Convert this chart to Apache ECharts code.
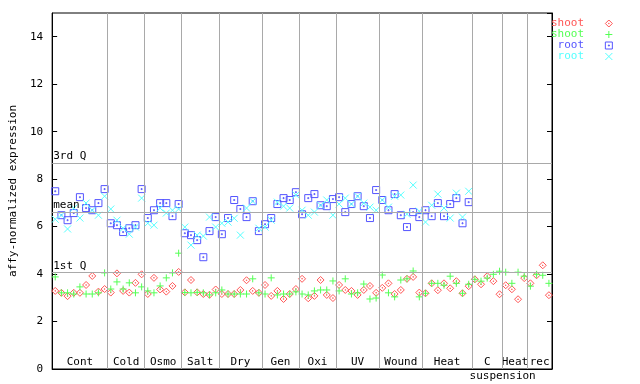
<!DOCTYPE html>
<html><head><meta charset="utf-8">
<script src="https://cdn.jsdelivr.net/npm/echarts@6/dist/echarts.min.js"></script>
<style>html,body{margin:0;padding:0;background:#fff}#c{width:640px;height:384px}</style>
</head><body><div id="c"></div>
<script>
const groups = ['Cont','Cold','Osmo','Salt','Dry','Gen','Oxi','UV','Wound','Heat','C','Heat','rec'];
const groupSizes = [9,6,6,6,7,6,6,7,7,8,5,4,4];
const subLabel = 'suspension';
const shoot1 = [3.29,3.21,3.07,3.21,3.21,3.54,3.92,3.26,3.37,
  3.22,4.03,3.29,3.22,3.63,3.99,
  3.16,3.84,3.35,3.26,3.50,4.09,
  3.23,3.75,3.23,3.16,3.13,3.35,
  3.16,3.16,3.16,3.33,3.74,3.29,3.21,
  3.54,3.08,3.29,2.95,3.16,3.37,
  3.80,2.98,3.08,3.75,3.12,2.99,
  3.54,3.33,3.29,3.12,3.33,3.50,3.21,
  3.42,3.61,3.16,3.33,3.80,3.88,3.22,
  3.19,3.61,3.32,3.61,3.40,3.70,3.19,3.49,
  3.78,3.57,3.91,3.70,3.15,
  3.53,3.36,2.94,3.83,
  3.61,3.95,4.37,3.11];
const shoot2 = [3.88,3.21,3.21,3.16,3.46,3.16,3.16,3.21,4.05,
  3.37,3.67,3.37,3.63,3.21,3.46,
  3.29,3.21,3.50,3.84,4.05,4.88,
  3.22,3.21,3.23,3.21,3.12,3.21,
  3.33,3.16,3.16,3.16,3.16,3.80,3.21,
  3.16,3.84,3.12,3.16,3.16,3.25,
  3.16,3.12,3.29,3.33,3.33,3.71,
  3.29,3.80,3.16,3.21,3.58,2.95,2.99,
  3.96,3.21,3.04,3.75,3.80,4.13,3.04,
  3.19,3.61,3.61,3.53,3.91,3.61,3.19,3.57,
  3.78,3.70,3.83,3.99,4.12,
  4.08,3.61,4.08,3.91,
  3.49,3.99,3.95,3.61];
const root1 = [7.49,6.48,6.27,6.57,7.24,6.78,6.69,6.99,7.58,
  6.14,6.06,5.77,5.93,6.06,7.58,
  6.36,6.69,6.99,6.99,6.44,6.95,
  5.72,5.64,5.43,4.71,5.81,6.40,
  5.68,6.36,7.12,6.74,6.40,7.07,5.81,
  6.10,6.36,6.95,7.20,7.12,7.45,
  6.52,7.20,7.37,6.90,6.86,7.16,
  7.24,6.61,6.95,7.28,6.86,6.36,7.54,
  7.12,6.69,7.37,6.48,5.98,6.61,6.40,
  6.69,6.44,6.99,6.44,6.95,7.20,6.14,7.03];
const root2 = [6.31,6.48,5.90,6.78,6.36,6.99,6.69,6.48,7.28,
  6.74,6.27,5.93,5.68,5.98,7.20,
  6.14,6.06,6.78,6.57,6.69,6.74,
  5.98,5.22,5.64,5.60,6.40,5.98,
  6.14,6.19,6.35,5.64,6.78,7.07,5.93,
  5.98,6.27,7.03,6.86,6.78,7.33,
  6.69,6.48,6.61,6.90,7.12,6.48,
  6.95,7.20,6.95,7.28,6.99,6.82,6.69,
  7.12,6.82,7.28,7.33,6.52,7.75,6.65,
  6.19,6.90,7.37,6.78,6.36,7.41,6.40,7.49];
const statValues = [8.68, 6.61, 4.08];
const statLabels = ['3rd Q', 'mean', '1st Q'];
const seriesNames = ['shoot_1','shoot_2','root_1','root_2'];
const seriesLabels = ['shoot','shoot','root','root'];
const seriesColors = ['#ff5555','#55ff55','#5555ff','#55ffff'];

const FONT = 'DejaVu Sans Mono';
const GREY = '#a9a9a9';
const total = groupSizes.reduce((a,b)=>a+b,0);
const bounds = [];
let acc = 0;
groupSizes.forEach(n => { bounds.push(acc); acc += n; });
bounds.push(acc);

const pts = arr => arr.map((v,i)=>[i+0.5, v]);
const symbols = [
  'path://M5,0L10,5L5,10L0,5Z M4.6,4.6L5.4,4.6L5.4,5.4L4.6,5.4Z',
  'path://M0,5L10,5M5,0L5,10',
  'path://M0,0L10,0L10,10L0,10Z M4.3,4.3L5.7,4.3L5.7,5.7L4.3,5.7Z',
  'path://M0,0L10,10M10,0L0,10'
];
const dataSets = [shoot1, shoot2, root1, root2];

const chart = echarts.init(document.getElementById('c'), null, {renderer:'canvas'});
const series = [];
series.push({
  name: 'guides', type: 'scatter', data: [], z: 1, silent: true,
  markLine: {
    silent: true, symbol: 'none', animation: false,
    lineStyle: {color: GREY, type: 'solid', width: 1},
    data: bounds.slice(1, -1).map(b => ({xAxis: b, label: {show: false}}))
      .concat(statValues.map((v,k) => ({yAxis: v, name: statLabels[k],
        label: {show: true, position: 'insideStartTop', formatter: statLabels[k],
          color: '#000', fontFamily: FONT, fontSize: 11, distance: [1, 1]}})))
  },
  markArea: {
    silent: true, animation: false,
    itemStyle: {color: 'rgba(0,0,0,0)'},
    label: {show: true, position: 'insideBottom', color: '#000', fontFamily: FONT, fontSize: 11, distance: 1},
    data: groups.map((g,k) => [{name: g, xAxis: bounds[k]}, {xAxis: bounds[k+1]}])
      .concat([[{name: subLabel, xAxis: bounds[10] + 1, label: {position: 'bottom', distance: 2}}, {xAxis: bounds[12]}]])
  }
});
dataSets.forEach((d,k) => {
  series.push({
    name: seriesNames[k], type: 'scatter', data: pts(d), z: 3,
    symbol: symbols[k], symbolSize: 7, symbolKeepAspect: true,
    itemStyle: {color: 'rgba(0,0,0,0)', borderColor: seriesColors[k], borderWidth: 1, opacity: 1},
    emphasis: {disabled: true}, animation: false
  });
});

chart.setOption({
  animation: false,
  backgroundColor: '#fff',
  grid: {left: 44, right: 88, top: 13, bottom: 15, show: true, borderColor: '#000', borderWidth: 1},
  legend: {
    orient: 'vertical', left: 551, top: 18, align: 'right', padding: 0,
    itemWidth: 7, itemHeight: 7, itemGap: 0, selectedMode: false,
    data: seriesNames.map((n,k) => ({name: n, icon: symbols[k],
      itemStyle: {color: 'rgba(0,0,0,0)', borderColor: seriesColors[k], borderWidth: 1},
      textStyle: {color: seriesColors[k]}})),
    formatter: n => seriesLabels[seriesNames.indexOf(n)].padStart(5, ' ') + '  ',
    textStyle: {fontFamily: FONT, fontSize: 11, lineHeight: 11, padding: [0, 3, 0, 0]}
  },
  xAxis: {
    type: 'value', min: 0, max: total,
    axisLine: {show: true, lineStyle: {color: '#000'}},
    axisTick: {show: false}, axisLabel: {show: false}, splitLine: {show: false}
  },
  yAxis: [{
    type: 'value', min: 0, max: 15, interval: 2, position: 'left',
    name: 'affy-normalized expression', nameLocation: 'middle', nameGap: 29,
    nameTextStyle: {fontFamily: FONT, fontSize: 11, color: '#000'},
    axisLine: {show: true, lineStyle: {color: '#000'}},
    axisTick: {show: true, inside: true, length: 5, lineStyle: {color: '#000'}},
    axisLabel: {fontFamily: FONT, fontSize: 11, color: '#000', margin: 9, showMaxLabel: false},
    splitLine: {show: false}
  }, {
    type: 'value', min: 0, max: 15, interval: 2, position: 'right',
    axisLine: {show: true, lineStyle: {color: '#000'}},
    axisTick: {show: true, inside: true, length: 5, lineStyle: {color: '#000'}},
    axisLabel: {show: false}, splitLine: {show: false}
  }],
  series: series
});
</script></body></html>
